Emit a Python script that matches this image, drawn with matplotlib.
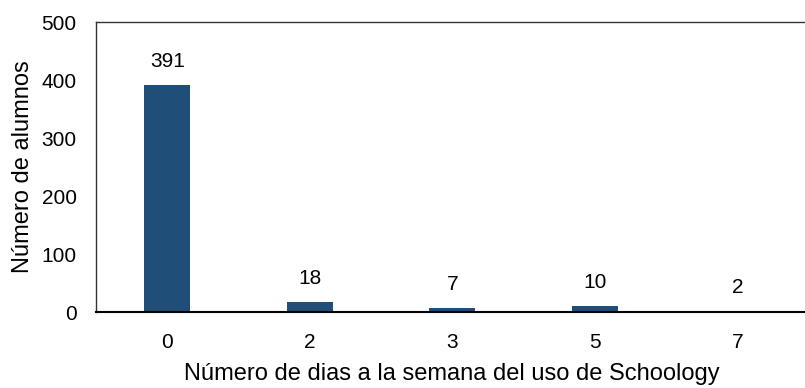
import matplotlib.pyplot as plt

plt.rcParams['font.family'] = ['Liberation Sans', 'DejaVu Sans']

dias = ["0", "2", "3", "5", "7"]
alumnos = [391, 18, 7, 10, 2]

fig = plt.figure(figsize=(8.05, 3.88), dpi=100)
ax = fig.add_axes([96 / 805, 1 - 312 / 388, 712.5 / 805, 290 / 388])

x = range(len(dias))
bars = ax.bar(x, alumnos, width=0.32, color="#1F4E79")

for b, v in zip(bars, alumnos):
    ax.annotate(str(v), (b.get_x() + b.get_width() / 2, v),
                xytext=(0, 10), textcoords="offset points",
                ha="center", va="bottom", fontsize=15)

ax.set_xlim(-0.5, len(dias) - 0.5)
ax.set_ylim(0, 500)
ax.set_yticks(range(0, 501, 100))
ax.set_xticks(list(x))
ax.set_xticklabels(dias)
ax.tick_params(axis="both", length=0, labelsize=15)
ax.tick_params(axis="x", pad=15)
ax.tick_params(axis="y", pad=14)

for s in ax.spines.values():
    s.set_color("#333333")
    s.set_linewidth(1)
ax.spines["bottom"].set_color("black")
ax.spines["bottom"].set_linewidth(1.5)

ax.set_xlabel("Número de dias a la semana del uso de Schoology", fontsize=17, labelpad=8)
ax.set_ylabel("Número de alumnos", fontsize=17, labelpad=5)

fig.savefig("out.png", dpi=100)
